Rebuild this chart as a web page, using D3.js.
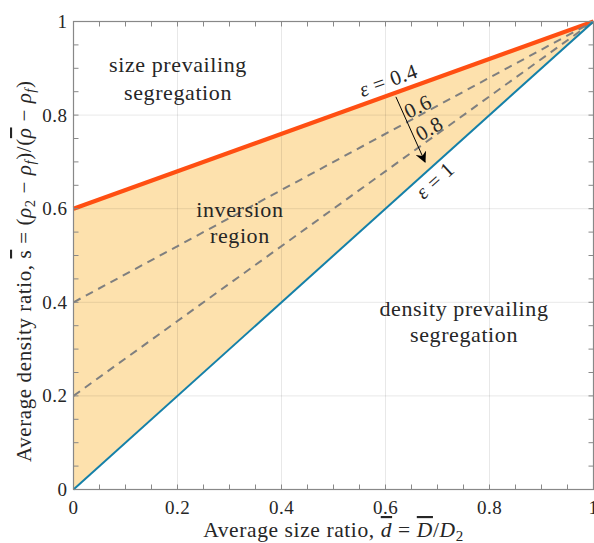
<!DOCTYPE html>
<html><head><meta charset="utf-8">
<script src="https://cdn.jsdelivr.net/npm/d3@7"></script>
<style>body{margin:0;background:#fff}svg{display:block}text{font-family:"Liberation Serif","Times New Roman",serif;fill:#262626}</style>
</head><body><svg id="c" width="594" height="543"></svg>
<script>
// ---- data ----
const epsilonValues = [0.4, 0.6, 0.8, 1];
const intercepts = [0.6, 0.4, 0.2, 0];      // s at d = 0 for each epsilon
const endPoint = [1, 1];                     // all lines meet at (1,1)
const tickValues = [0, 0.2, 0.4, 0.6, 0.8, 1];
const tickLabels = ["0", "0.2", "0.4", "0.6", "0.8", "1"];
const minorTicks = d3.range(0, 1.0001, 0.05);

const svg = d3.select("#c");
const L = 73.5, R = 593.5, T = 21.5, B = 489.5;
const x = d3.scaleLinear().domain([0, 1]).range([L, R]);
const y = d3.scaleLinear().domain([0, 1]).range([B, T]);

const lineData = intercepts.map((b, i) => ({eps: epsilonValues[i], pts: [[0, b], endPoint]}));
const line = d3.line().x(d => x(d[0])).y(d => y(d[1]));

// fill between eps=0.4 and eps=1
const upperPts = lineData[0].pts, lowerPts = lineData[3].pts;
svg.append("path").attr("d", line([...upperPts, ...lowerPts.slice().reverse()]) + "Z")
  .attr("fill", "#fde1ad").attr("stroke", "none");

// grid
const g = svg.append("g");
tickValues.forEach(v => {
  g.append("line").attr("x1", x(v)).attr("x2", x(v)).attr("y1", T).attr("y2", B)
    .attr("stroke", "#000").attr("stroke-opacity", 0.09).attr("stroke-width", 1);
  g.append("line").attr("y1", y(v)).attr("y2", y(v)).attr("x1", L).attr("x2", R)
    .attr("stroke", "#000").attr("stroke-opacity", 0.09).attr("stroke-width", 1);
});

// lines
const styles = [
  {stroke: "#ff4f12", width: 4.3, dash: null},
  {stroke: "#7f7f7f", width: 2, dash: "8,6"},
  {stroke: "#7f7f7f", width: 2, dash: "8,6"},
  {stroke: "#1580a8", width: 2, dash: null}
];
lineData.forEach((d, i) => {
  svg.append("path").attr("d", line(d.pts)).attr("fill", "none")
    .attr("stroke", styles[i].stroke).attr("stroke-width", styles[i].width)
    .attr("stroke-dasharray", styles[i].dash);
});

// axes box
const ax = svg.append("g");
const axColor = "#888";
ax.append("rect").attr("x", L).attr("y", T).attr("width", R - L).attr("height", B - T)
  .attr("fill", "none").attr("stroke", axColor).attr("stroke-width", 1.2);
minorTicks.forEach(v => {
  const len = 5;
  ax.append("line").attr("x1", x(v)).attr("x2", x(v)).attr("y1", B).attr("y2", B - len).attr("stroke", axColor);
  ax.append("line").attr("x1", x(v)).attr("x2", x(v)).attr("y1", T).attr("y2", T + len).attr("stroke", axColor);
  ax.append("line").attr("y1", y(v)).attr("y2", y(v)).attr("x1", L).attr("x2", L + len).attr("stroke", axColor);
  ax.append("line").attr("y1", y(v)).attr("y2", y(v)).attr("x1", R).attr("x2", R - len).attr("stroke", axColor);
});
tickValues.forEach((v, i) => {
  ax.append("text").attr("x", x(v)).attr("y", B + 24).attr("text-anchor", "middle")
    .attr("font-size", 19).attr("letter-spacing", 0.5).text(tickLabels[i]);
  ax.append("text").attr("x", L - 6).attr("y", y(v) + 6.5).attr("text-anchor", "end")
    .attr("font-size", 19).attr("letter-spacing", 0.5).text(tickLabels[i]);
});

// rich text helper
function rich(sel, segs, size) {
  segs.forEach(s => {
    const t = sel.append("tspan").text(s.t);
    if (s.it) t.attr("font-style", "italic");
    if (s.over) t.style("text-decoration", "overline");
    if (s.sub) { t.attr("font-size", size * 0.7).attr("dy", size * 0.2); }
    if (s.after) { t.attr("dy", -size * 0.2); }
  });
}

// x label (centred by measured box)
const XS = 21.5;
const xl = svg.append("text").attr("font-size", XS).attr("letter-spacing", 0.6).attr("x", 0).attr("y", 0);
rich(xl, [{t: "Average size ratio, "}, {t: "d", it: 1, over: 1}, {t: " = "}, {t: "D", it: 1, over: 1},
  {t: "/"}, {t: "D", it: 1}, {t: "2", sub: 1}], XS);
const xb = xl.node().getBBox();
xl.attr("x", (L + R) / 2 - (xb.x + xb.width / 2)).attr("y", 537);

// y label
const YS = 21;
const yl = svg.append("text").attr("font-size", YS).attr("letter-spacing", 0.6).attr("x", 0).attr("y", 0);
rich(yl, [{t: "Average density ratio, "}, {t: "s", over: 1}, {t: " = ("}, {t: "ρ", it: 1}, {t: "2", sub: 1},
  {t: " − ", after: 1}, {t: "ρ", it: 1}, {t: "f", sub: 1, it: 1}, {t: ")/(", after: 1}, {t: "ρ", it: 1, over: 1},
  {t: " − "}, {t: "ρ", it: 1}, {t: "f", sub: 1, it: 1}, {t: ")", after: 1}], YS);
yl.attr("transform", `translate(31,462) rotate(-90)`);

// region labels
function label(lines, cx, cy, dy) {
  lines.forEach((s, i) => svg.append("text").attr("x", x(cx)).attr("y", y(cy) + i * dy)
    .attr("text-anchor", "middle").attr("font-size", 22).attr("letter-spacing", 0.6).text(s));
}
label(["size prevailing", "segregation"], 0.201, 0.892, 28);
label(["inversion", "region"], 0.32, 0.582, 26);
label(["density prevailing", "segregation"], 0.751, 0.371, 26);

// epsilon labels
function rot(txt, cx, cy, ang) {
  const t = svg.append("text").attr("transform", `translate(${x(cx)},${y(cy)}) rotate(${ang})`)
    .attr("text-anchor", "middle").attr("dy", "0.35em").attr("font-size", 21).attr("letter-spacing", 0.5);
  rich(t, txt, 21);
}
rot([{t: "ε", it: 1}, {t: " = " + epsilonValues[0]}], 0.605, 0.875, -19.8);
rot([{t: String(epsilonValues[1])}], 0.662, 0.819, -26);
rot([{t: String(epsilonValues[2])}], 0.684, 0.772, -30);
rot([{t: "ε", it: 1}, {t: " = " + epsilonValues[3]}], 0.695, 0.661, -42);

// arrow
svg.append("defs").append("marker").attr("id", "ah").attr("viewBox", "0 0 10 10")
  .attr("refX", 9).attr("refY", 5).attr("markerWidth", 11).attr("markerHeight", 11)
  .attr("markerUnits", "userSpaceOnUse").attr("orient", "auto")
  .append("path").attr("d", "M0,0 L10,5 L0,10 L3,5 Z").attr("fill", "#000");
svg.append("line").attr("x1", x(0.62)).attr("y1", y(0.839)).attr("x2", x(0.676)).attr("y2", y(0.70))
  .attr("stroke", "#000").attr("stroke-width", 1).attr("marker-end", "url(#ah)");
</script></body></html>
